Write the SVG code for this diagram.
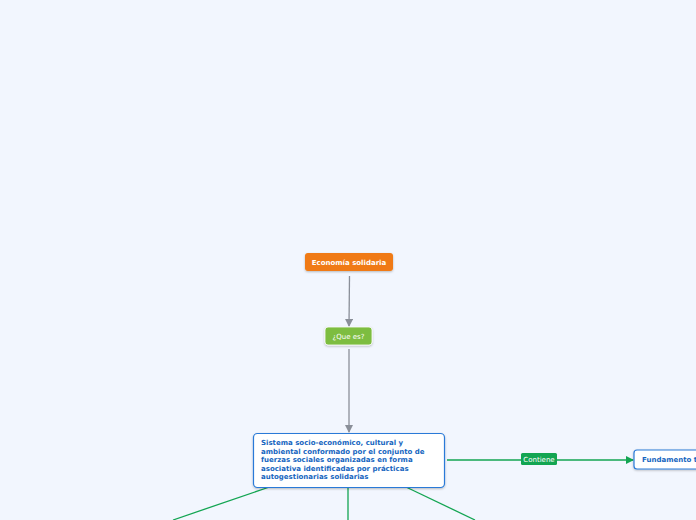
<svg xmlns="http://www.w3.org/2000/svg" width="696" height="520" viewBox="0 0 696 520">
<defs>
<style>
.t{font-family:"DejaVu Sans",Verdana,sans-serif;font-size:7px}
.b{font-weight:bold}
.w{fill:#ffffff}
.blue{fill:#1565c0;font-weight:bold}
.gl{stroke:#13a552;stroke-width:1.3;fill:none}
.gr{stroke:#8a8f99;stroke-width:1.3;fill:none}
</style>
<marker id="ag" markerWidth="8" markerHeight="8" refX="7" refY="4" orient="auto" markerUnits="userSpaceOnUse"><path d="M0,0 L8,4 L0,8 Z" fill="#8a8f99"/></marker>
<marker id="agr" markerWidth="8" markerHeight="8" refX="7" refY="4" orient="auto" markerUnits="userSpaceOnUse"><path d="M0,0 L8,4 L0,8 Z" fill="#13a552"/></marker>
<filter id="sh" x="-20%" y="-20%" width="140%" height="160%"><feDropShadow dx="0" dy="1" stdDeviation="0.8" flood-color="#000" flood-opacity="0.25"/></filter>
</defs>
<rect width="696" height="520" fill="#f2f6fe"/>
<g id="connectors">
<path class="gr" d="M349.5,276 L349,326" marker-end="url(#ag)"/>
<path class="gr" d="M349,349 L349,432" marker-end="url(#ag)"/>
<path class="gl" d="M447,460 L633,460" marker-end="url(#agr)"/>
<rect x="521" y="453" width="36" height="12" rx="1.5" fill="#13a552"/>
<text class="t w" x="539" y="461.8" text-anchor="middle" font-size="6.5">Contiene</text>
<path class="gl" d="M268,487.5 L173,520"/>
<path class="gl" d="M348,487.5 L348,520"/>
<path class="gl" d="M407,487.5 L475,520"/>
</g>
<g id="n-economia">
<rect x="305" y="253" width="88" height="18" rx="3" fill="#f07a12" filter="url(#sh)"/>
<text class="t b w" x="349" y="264.5" text-anchor="middle">Economía solidaria</text>
</g>
<g id="n-quees">
<rect x="325" y="327" width="47" height="18" rx="3" fill="#7dbd3f" stroke="#ffffff" stroke-width="0.8" filter="url(#sh)"/>
<text class="t w" x="348.5" y="338.5" text-anchor="middle">¿Que es?</text>
</g>
<g id="n-sistema">
<rect x="253.5" y="433.5" width="191" height="54" rx="4" fill="#ffffff" stroke="#2a7ad8" stroke-width="1.2" filter="url(#sh)"/>
<text class="t blue" x="261" y="445">Sistema socio-económico, cultural y</text>
<text class="t blue" x="261" y="453.5">ambiental conformado por el conjunto de</text>
<text class="t blue" x="261" y="462">fuerzas sociales organizadas en forma</text>
<text class="t blue" x="261" y="470.5">asociativa identificadas por prácticas</text>
<text class="t blue" x="261" y="479">autogestionarias solidarias</text>
</g>
<g id="n-fundamento">
<rect x="634" y="450" width="70" height="19" rx="3" fill="#ffffff" stroke="#2a7ad8" stroke-width="1.2" filter="url(#sh)"/>
<text class="t blue" x="642" y="462">Fundamento t</text>
</g>
</svg>
